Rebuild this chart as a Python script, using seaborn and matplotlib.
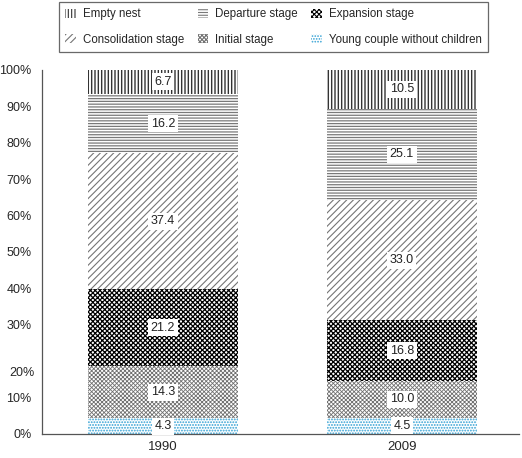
import numpy as np
import pandas as pd
import matplotlib
matplotlib.use("Agg")
import matplotlib.pyplot as plt
import seaborn as sns
from matplotlib.patches import Patch

years = ["1990", "2009"]
stages = ["Young couple without children", "Initial stage", "Expansion stage",
          "Consolidation stage", "Departure stage", "Empty nest"]
vals_1990 = [4.3, 14.3, 21.2, 37.4, 16.2, 6.7]
vals_2009 = [4.5, 10.0, 16.8, 33.0, 25.1, 10.5]
yticks = [0, 10, 20, 30, 40, 50, 60, 70, 80, 90, 100]

# hatch style per stage (pattern, hatch colour, hatch linewidth)
hatches = {
    "Young couple without children": ("......", "#2f9fd3", 0.9),
    "Initial stage": ("xxxxxxxx", "#707070", 0.6),
    "Expansion stage": ("xxxxxxx", "#000000", 0.9),
    "Consolidation stage": ("/////", "#757575", 0.8),
    "Departure stage": ("------", "#7a7a7a", 0.9),
    "Empty nest": ("|||||", "#333333", 1.0),
}

sns.set_style("white")
plt.rcParams["font.family"] = ["Liberation Sans", "DejaVu Sans"]
plt.rcParams["hatch.linewidth"] = 0.8


def apply_hatch(p, st):
    pat, col, lw = hatches[st]
    p.set_facecolor("white")
    p.set_hatch(pat)
    p.set_edgecolor(col)
    p.set_linewidth(0)
    if hasattr(p, "set_hatch_linewidth"):
        p.set_hatch_linewidth(lw)


df = pd.DataFrame({"year": np.repeat(years, len(stages)),
                   "stage": stages * len(years),
                   "value": vals_1990 + vals_2009})
df["top"] = df.groupby("year")["value"].cumsum()
df["bottom"] = df["top"] - df["value"]

fig = plt.figure(figsize=(5.22, 4.58), dpi=100)
ax = fig.add_axes([42 / 522, 24 / 458, 477 / 522, 364 / 458])

# stacked bars: draw cumulative totals from the top stage down
for st in stages[::-1]:
    sub = df[df["stage"] == st]
    n_before = len(ax.patches)
    sns.barplot(data=sub, x="year", y="top", color="white", width=0.63,
                ax=ax, linewidth=0, saturation=1, errorbar=None)
    for p in ax.patches[n_before:]:
        apply_hatch(p, st)

# value labels
for _, r in df.iterrows():
    xi = years.index(r["year"])
    ax.text(xi, (r["bottom"] + r["top"]) / 2, f"{r['value']:.1f}",
            ha="center", va="center", fontsize=9, color="#222222",
            bbox=dict(boxstyle="square,pad=0.2", fc="white", ec="none"))

ax.set_xlim(-0.506, 1.49)
ax.set_ylim(0, 100)
ax.set_yticks(yticks)
ax.set_yticklabels([f"{t}%" if t != 20 else "" for t in yticks], fontsize=9)
ax.text(-0.015, 16.7, "20%", transform=ax.get_yaxis_transform(),
        ha="right", va="center", fontsize=9, color="#262626")
ax.tick_params(axis="y", length=5, width=0.8, color="#555555", pad=2.5)
ax.tick_params(axis="x", length=0, pad=5, labelsize=9.5)
ax.set_xlabel("")
ax.set_ylabel("")
for s in ["top", "right"]:
    ax.spines[s].set_visible(False)
for s in ["left", "bottom"]:
    ax.spines[s].set_color("#555555")
    ax.spines[s].set_linewidth(0.9)

# legend in row order
order = ["Empty nest", "Consolidation stage", "Departure stage", "Initial stage",
         "Expansion stage", "Young couple without children"]
handles = []
for s in order:
    h = Patch(label=s)
    apply_hatch(h, s)
    handles.append(h)
leg = fig.legend(handles=handles, ncol=3, loc="upper left",
                 bbox_to_anchor=(59 / 522, 1 - 2 / 458), frameon=True,
                 fancybox=False, edgecolor="#444444", fontsize=8.3,
                 handlelength=0.9, handleheight=0.9, handletextpad=0.6,
                 columnspacing=1.2, labelspacing=1.15, borderpad=0.55,
                 borderaxespad=0)
leg.get_frame().set_linewidth(0.9)

fig.savefig("out.png", dpi=100)
